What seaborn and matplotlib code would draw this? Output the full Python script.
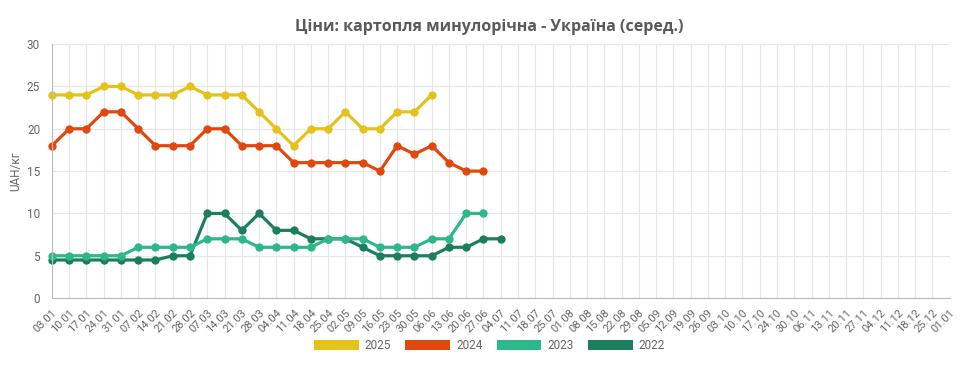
import matplotlib
matplotlib.use('Agg')
import matplotlib.pyplot as plt
import seaborn as sns
import pandas as pd
from matplotlib.patches import Patch

# Дати (тижні)
dates = ['03.01', '10.01', '17.01', '24.01', '31.01', '07.02', '14.02', '21.02', '28.02',
         '07.03', '14.03', '21.03', '28.03', '04.04', '11.04', '18.04', '25.04', '02.05',
         '09.05', '16.05', '23.05', '30.05', '06.06', '13.06', '20.06', '27.06', '04.07',
         '11.07', '18.07', '25.07', '01.08', '08.08', '15.08', '22.08', '29.08', '05.09',
         '12.09', '19.09', '26.09', '03.10', '10.10', '17.10', '24.10', '30.10', '06.11',
         '13.11', '20.11', '27.11', '04.12', '11.12', '18.12', '25.12', '01.01']

# Ціни по роках
y2025 = [24, 24, 24, 25, 25, 24, 24, 24, 25, 24, 24, 24, 22, 20, 18, 20, 20, 22, 20, 20, 22, 22, 24]
y2024 = [18, 20, 20, 22, 22, 20, 18, 18, 18, 20, 20, 18, 18, 18, 16, 16, 16, 16, 16, 15, 18, 17, 18, 16, 15, 15]
y2023 = [5, 5, 5, 5, 5, 6, 6, 6, 6, 7, 7, 7, 6, 6, 6, 6, 7, 7, 7, 6, 6, 6, 7, 7, 10, 10]
y2022 = [4.5, 4.5, 4.5, 4.5, 4.5, 4.5, 4.5, 5, 5, 10, 10, 8, 10, 8, 8, 7, 7, 7, 6, 5, 5, 5, 5, 6, 6, 7, 7]

years = ['2025', '2024', '2023', '2022']
series = [y2025, y2024, y2023, y2022]
colors = ['#e5c21a', '#e0480f', '#2db88a', '#1c7f5c']

rows = []
for yr, vals in zip(years, series):
    for i, v in enumerate(vals):
        rows.append({'idx': i, 'price': v, 'year': yr})
df = pd.DataFrame(rows)

sns.set_style('white')
plt.rcParams['font.family'] = ['Roboto', 'DejaVu Sans']

fig = plt.figure(figsize=(9.79, 3.74), dpi=100)
ax = fig.add_axes([0.053, 0.203, 0.917, 0.679])

# спочатку старші роки, щоб 2025 був зверху
for yr, c in reversed(list(zip(years, colors))):
    sns.lineplot(data=df[df['year'] == yr], x='idx', y='price', color=c, marker='o',
                 markersize=6, markeredgewidth=0, linewidth=2.3, ax=ax, legend=False,
                 clip_on=False)

ax.set_xlim(0, len(dates) - 1)
ax.set_ylim(0, 30)
ax.set_xticks(range(len(dates)))
ax.set_xticklabels(dates, rotation=45, ha='right', rotation_mode='anchor', fontsize=8, color='#666666')
ax.set_yticks(range(0, 31, 5))
ax.tick_params(axis='y', labelsize=8.5, labelcolor='#666666', length=5, color='#bbbbbb')
ax.tick_params(axis='x', length=5, color='#dddddd', pad=2)
ax.grid(True, color='#e6e6e6', linewidth=0.8)
ax.set_axisbelow(True)
for s in ['top', 'right']:
    ax.spines[s].set_visible(False)
ax.spines['left'].set_color('#bbbbbb')
ax.spines['bottom'].set_color('#bbbbbb')
ax.set_xlabel('')
ax.set_ylabel('UAH/кг', fontsize=8.5, color='#666666', labelpad=3)

fig.suptitle('Ціни: картопля минулорічна - Україна (серед.)', x=0.5, y=0.95,
             fontsize=11.5, fontweight='bold', color='#5a5a5a', family=['Open Sans', 'DejaVu Sans'])

handles = [Patch(facecolor=c, edgecolor='none') for c in colors]
fig.legend(handles, years, loc='lower center', bbox_to_anchor=(0.5, 0.03), ncol=4, frameon=False,
           handlelength=3.8, handleheight=1.0, fontsize=8.5, labelcolor='#666666', columnspacing=1.2,
           handletextpad=0.5)

fig.savefig('out.png', dpi=100)
